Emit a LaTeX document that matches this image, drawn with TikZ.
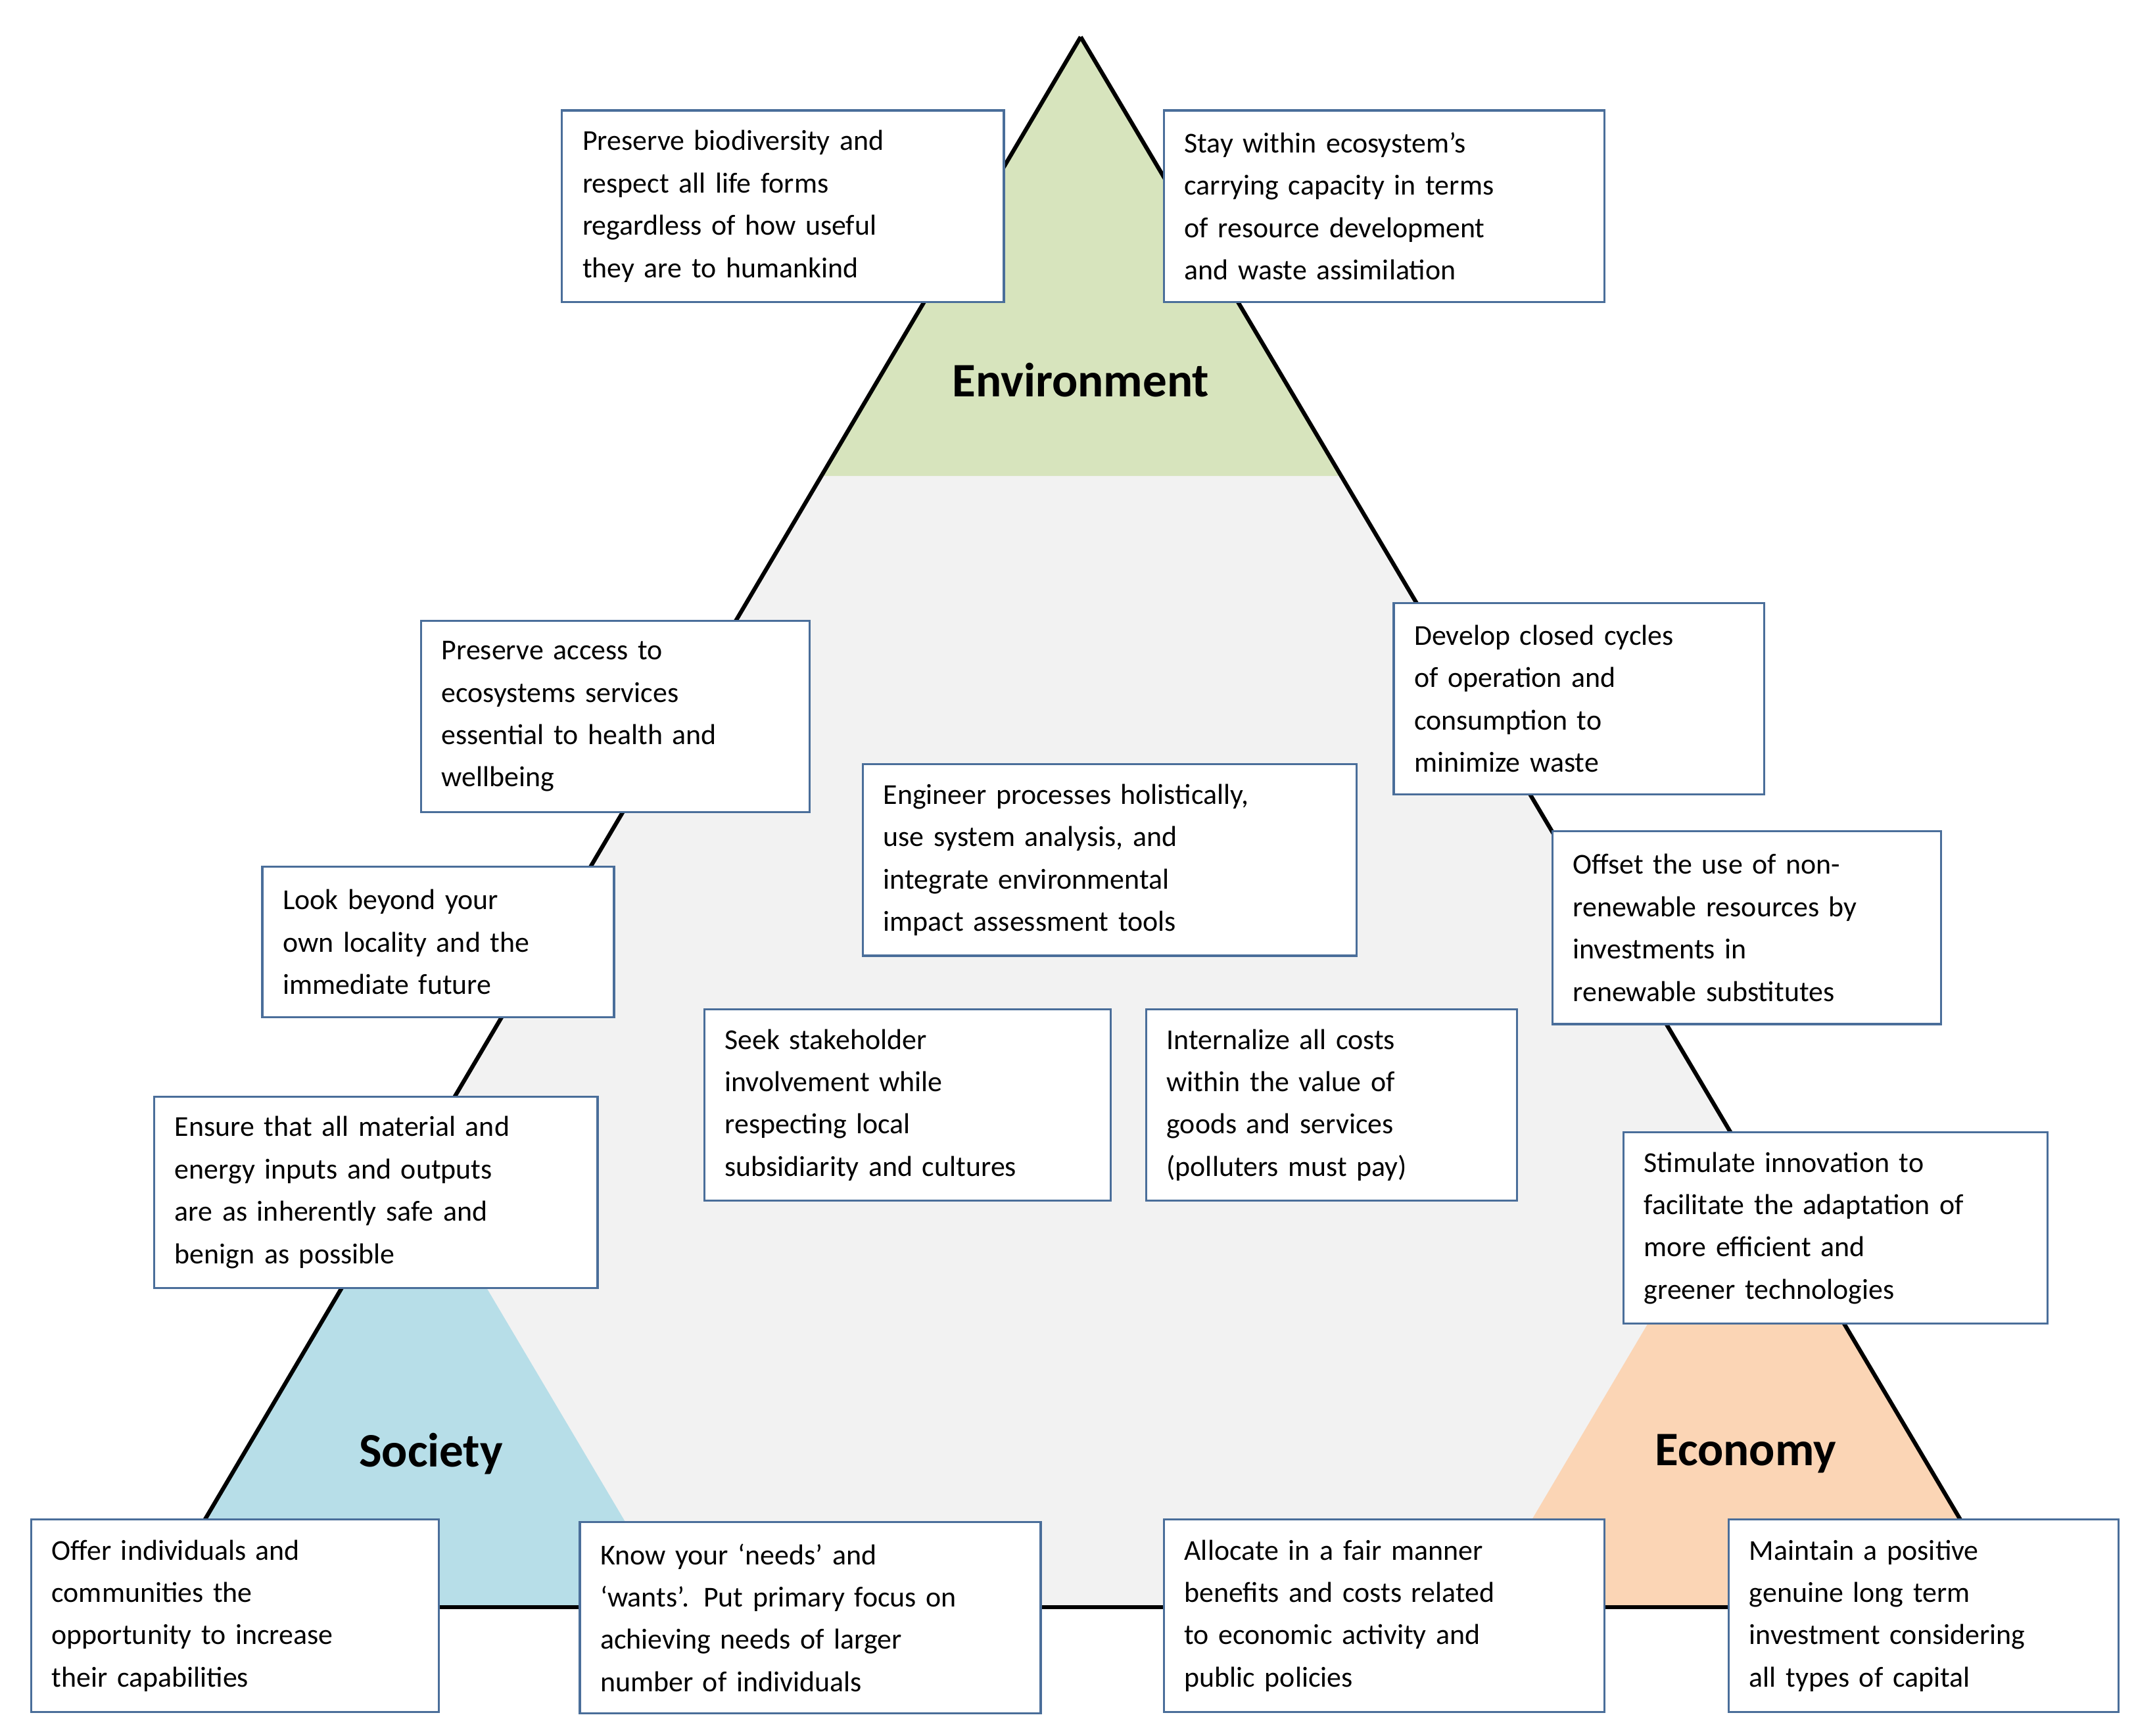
\documentclass[tikz,border=0pt]{standalone}
\usepackage{fontspec}
\setmainfont{Carlito}
\definecolor{boxb}{HTML}{4A6E9A}
\definecolor{envg}{HTML}{D7E4BD}
\definecolor{socb}{HTML}{B7DEE8}
\definecolor{ecoo}{HTML}{FBD5B5}
\definecolor{midg}{HTML}{F2F2F2}
\begin{document}
\begin{tikzpicture}[x=0.5mm,y=-0.5mm,
  bx/.style={draw=boxb,line width=0.8mm,fill=white,anchor=north west,align=left,
    inner xsep=7.5mm,inner ysep=0pt,font=\fontsize{30}{44}\selectfont},
  lab/.style={font=\fontsize{50}{60}\selectfont\bfseries}]
\useasboundingbox (0,0) rectangle (1560,1269);
% triangle
\coordinate (A) at (790,27);
\coordinate (L) at (112,1175);
\coordinate (R) at (1471,1175);
\fill[midg] (A)--(L)--(R)--cycle;
\fill[envg] (A)--(600,348)--(980,348)--cycle;
\fill[socb] (302,851)--(112,1175)--(494,1175)--cycle;
\fill[ecoo] (1276,847)--(1082,1175)--(1471,1175)--cycle;
\draw[line width=1.5mm,line join=miter] (A)--(L);
\draw[line width=1.5mm] (A)--(R);
\draw[line width=1.5mm] (30,1175)--(1540,1175);
\node[lab] (env) at (790,278) {Environment};
\node[lab] (soc) at (315,1063) {Society};
\node[lab] (eco) at (1276,1063) {Economy};
% boxes
\newcommand{\bbox}[6]{\node[bx,minimum width={(#4-#2)*0.5mm},minimum height={(#5-#3)*0.5mm},text width={(#4-#2-30)*0.5mm}] (#1) at (#2,#3) {#6};}
\bbox{b1}{410}{80}{733}{220}{Preserve biodiversity and\\respect all life forms\\regardless of how useful\\they are to humankind}
\bbox{b2}{850}{80}{1172}{220}{Stay within ecosystem’s\\carrying capacity in terms\\of resource development\\and waste assimilation}
\bbox{b3}{307}{453}{591}{593}{Preserve access to\\ecosystems services\\essential to health and\\wellbeing}
\bbox{b4}{1018}{440}{1289}{580}{Develop closed cycles\\of  operation and\\consumption to\\minimize waste}
\bbox{b5}{630}{558}{991}{698}{Engineer processes holistically,\\use system analysis, and\\integrate environmental\\impact assessment tools}
\bbox{b6}{191}{633}{448}{743}{Look beyond your\\own locality and the\\immediate future}
\bbox{b7}{1134}{607}{1418}{748}{Offset the use of non-\\renewable resources by\\investments in\\renewable substitutes}
\bbox{b8}{514}{737}{811}{877}{Seek stakeholder\\involvement while\\respecting local\\subsidiarity and cultures}
\bbox{b9}{837}{737}{1108}{877}{Internalize all costs\\within the value of\\goods and services\\(polluters must pay)}
\bbox{b10}{112}{801}{436}{941}{Ensure that all material and\\energy inputs and outputs\\are as inherently safe and\\benign as possible}
\bbox{b11}{1186}{827}{1496}{967}{Stimulate innovation to\\facilitate the adaptation of\\more efficient and\\greener technologies}
\bbox{b12}{22}{1110}{320}{1251}{Offer individuals and\\communities the\\opportunity to increase\\their capabilities}
\bbox{b13}{423}{1112}{760}{1252}{Know your ‘needs’ and\\‘wants’. Put primary focus on\\achieving needs of larger\\number of individuals}
\bbox{b14}{850}{1110}{1172}{1251}{Allocate in a fair manner\\benefits and costs related\\to economic activity and\\public policies}
\bbox{b15}{1263}{1110}{1548}{1251}{Maintain a positive\\genuine long term\\investment considering\\all types of capital}
\end{tikzpicture}
\end{document}
